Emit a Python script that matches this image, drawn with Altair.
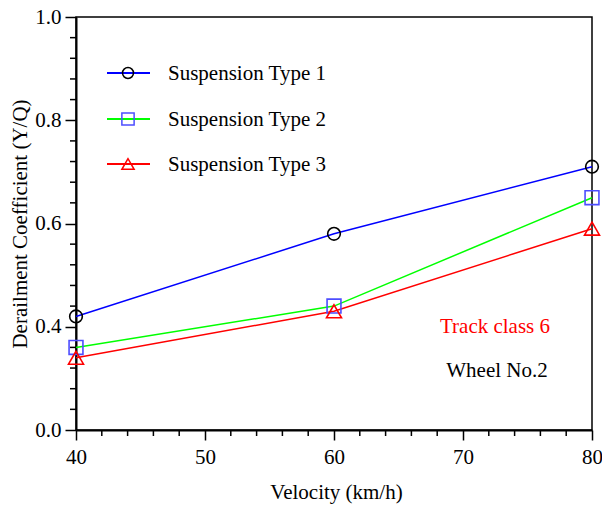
import altair as alt
import pandas as pd

# ---- data ----
velocity = [40, 60, 80]
series_names = ["Suspension Type 1", "Suspension Type 2", "Suspension Type 3"]
type1 = [0.42, 0.58, 0.71]
type2 = [0.36, 0.44, 0.65]
type3 = [0.34, 0.43, 0.59]

line_colors = ["#0000ff", "#00ff00", "#ff0000"]
marker_colors = ["#000000", "#4d4dff", "#ff0000"]
marker_shapes = ["circle", "square", "triangle-up"]

x_major = [40, 50, 60, 70, 80]
x_minor = [42, 44, 46, 48, 52, 54, 56, 58, 62, 64, 66, 68, 72, 74, 76, 78]
y_major = [0.2, 0.4, 0.6, 0.8, 1.0]
y_major_labels = ["0.0", "0.4", "0.6", "0.8", "1.0"]
y_minor = [0.24, 0.28, 0.32, 0.36, 0.44, 0.48, 0.52, 0.56,
           0.64, 0.68, 0.72, 0.76, 0.84, 0.88, 0.92, 0.96]

annotations = ["Track class 6", "Wheel No.2"]
annotation_colors = ["#ff0000", "#000000"]

FONT = "Liberation Serif"

rows = []
for name, vals in zip(series_names, [type1, type2, type3]):
    for v, y in zip(velocity, vals):
        rows.append({"series": name, "velocity": v, "yq": y})
df = pd.DataFrame(rows)

W, H = 516, 413

xscale = alt.Scale(domain=[40, 80], nice=False, zero=False)
yscale = alt.Scale(domain=[0.2, 1.0], nice=False, zero=False)

y_label_expr = " : ".join(
    [f"abs(datum.value - {v}) < 0.001 ? '{l}'" for v, l in zip(y_major, y_major_labels)]
) + " : ''"

x_axis = alt.Axis(
    values=x_major, orient="bottom", grid=False,
    labelFlush=False, labelOverlap=False, format="d",
    tickSize=10, tickWidth=1.5, tickColor="black",
    domainColor="black", domainWidth=2,
    labelFont=FONT, labelFontSize=21, labelColor="black", labelPadding=6,
    title="Velocity (km/h)", titleFont=FONT, titleFontSize=21,
    titleFontWeight="normal", titleColor="black",
    titleX=W / 2 + 2, titleY=68, titleBaseline="alphabetic", titleAlign="center",
)
y_axis = alt.Axis(
    values=y_major, orient="left", grid=False, labelExpr=y_label_expr,
    labelFlush=False, labelOverlap=False,
    tickSize=11, tickWidth=1.5, tickColor="black",
    domainColor="black", domainWidth=2,
    labelFont=FONT, labelFontSize=21, labelColor="black", labelPadding=4,
    title="Derailment Coefficient (Y/Q)", titleFont=FONT, titleFontSize=21,
    titleFontWeight="normal", titleColor="black",
    titleX=-50, titleY=H / 2, titleAngle=270, titleBaseline="alphabetic",
    titleAlign="center",
)

lines = alt.Chart(df).mark_line(strokeWidth=1.5).encode(
    x=alt.X("velocity:Q", scale=xscale, axis=x_axis),
    y=alt.Y("yq:Q", scale=yscale, axis=y_axis),
    color=alt.Color("series:N", scale=alt.Scale(domain=series_names, range=line_colors), legend=None),
    detail="series:N",
)

points = alt.Chart(df).mark_point(filled=False, strokeWidth=1.6, opacity=1).encode(
    x=alt.X("velocity:Q", scale=xscale, axis=x_axis),
    y=alt.Y("yq:Q", scale=yscale, axis=y_axis),
    stroke=alt.Stroke("series:N", scale=alt.Scale(domain=series_names, range=marker_colors), legend=None),
    shape=alt.Shape("series:N", scale=alt.Scale(domain=series_names, range=marker_shapes), legend=None),
    size=alt.Size("series:N", scale=alt.Scale(domain=series_names, range=[160, 225, 210]), legend=None),
)

# minor ticks, outside the plot area
x_minor_ticks = alt.Chart(pd.DataFrame({"v": x_minor})).mark_rule(
    color="black", strokeWidth=1.5, clip=False
).encode(
    x=alt.X("v:Q", scale=xscale, axis=x_axis), y=alt.value(H), y2=alt.value(H + 6)
)
y_minor_ticks = alt.Chart(pd.DataFrame({"v": y_minor})).mark_rule(
    color="black", strokeWidth=1.5, clip=False
).encode(
    y=alt.Y("v:Q", scale=yscale, axis=y_axis), x=alt.value(0), x2=alt.value(-6)
)

layers = [x_minor_ticks, y_minor_ticks, lines, points]

# ---- hand-drawn legend (layout positions in pixels) ----
legend_rows_y = [56, 102, 147]
legend_sizes = [120, 150, 150]
for name, lc, mc, shp, ly, sz in zip(series_names, line_colors, marker_colors,
                                     marker_shapes, legend_rows_y, legend_sizes):
    d = pd.DataFrame({"name": [name]})
    layers.append(
        alt.Chart(d).mark_rule(color=lc, strokeWidth=2).encode(
            x=alt.value(31), x2=alt.value(74), y=alt.value(ly)
        )
    )
    layers.append(
        alt.Chart(d).mark_point(shape=shp, color=mc, filled=False, strokeWidth=1.5,
                                size=sz, opacity=1).encode(
            x=alt.value(52), y=alt.value(ly)
        )
    )
    layers.append(
        alt.Chart(d).mark_text(font=FONT, fontSize=21, color="black", align="left",
                               baseline="middle").encode(
            x=alt.value(92), y=alt.value(ly + 1), text="name:N"
        )
    )

# ---- annotations ----
ann_pos = [(419, 316), (421, 360)]
for txt, col, (ax, ay) in zip(annotations, annotation_colors, ann_pos):
    d = pd.DataFrame({"t": [txt]})
    layers.append(
        alt.Chart(d).mark_text(font=FONT, fontSize=21, color=col, align="center",
                               baseline="alphabetic").encode(
            x=alt.value(ax), y=alt.value(ay), text="t:N"
        )
    )

chart = alt.layer(*layers).properties(
    width=W, height=H,
    autosize=alt.AutoSizeParams(type="none"),
    padding={"left": 76, "top": 17, "right": 10, "bottom": 75},
    background="white",
).configure_view(
    stroke="black", strokeWidth=1.5
)

chart.save("out.html", embed_options={"renderer": "svg", "actions": False})
